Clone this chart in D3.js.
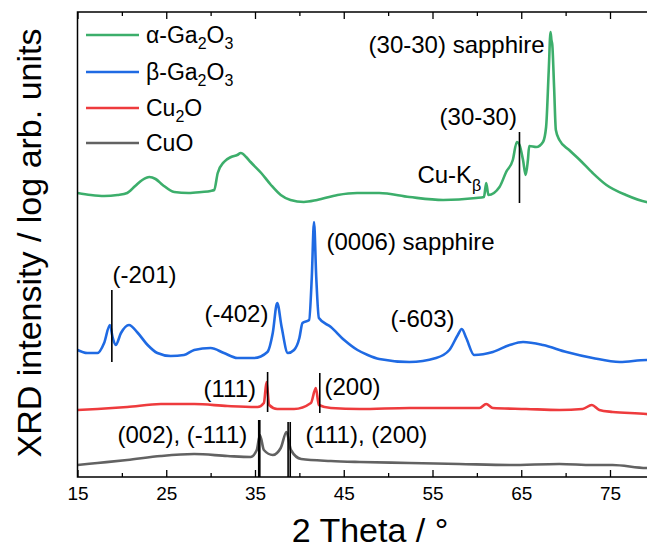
<!DOCTYPE html>
<html><head><meta charset="utf-8">
<script src="https://cdn.jsdelivr.net/npm/d3@7"></script>
<style>body{margin:0;background:#fff}svg{display:block}text{font-family:"Liberation Sans",Arial,sans-serif}</style>
</head><body><svg id="c" width="647" height="550"></svg>
<script>
// ---- data (2θ in degrees, intensity in arbitrary offset log units) ----
const alphaTheta = [15,16.5,18,19.5,20.6,21.5,22.3,23.1,23.8,24.6,25.9,27.5,29,30,30.4,30.8,31.5,32.3,33,33.4,34,34.5,35.7,36.8,37.9,39,40.5,42,44.3,46.5,49,52.4,56.2,59.9,60.8,61.05,61.3,62.55,63.3,64.05,64.5,64.8,65.2,65.5,65.75,65.9,66.7,67.45,67.8,68.1,68.3,68.4,68.5,68.7,68.9,69.3,70.4,71.6,73.05,74.6,76.8,79.1,80];
const alphaI = [284,282,281,282,284,291,297,300,298,292,285,284,285,286,287,304,315,320,322,324,320,315,304,292,282,277,275,277,282,284,284,280,277,279,280,294,282,290,305,317,335,332,317,302,317,331,330,335,350,407,445,437,432,390,347,337,327,317,304,292,282,275,274];

const betaTheta = [15,16.1,17.25,18,18.65,18.95,19.3,19.9,20.8,21.8,22.9,24,25.5,27,28.15,30,31.5,33,34.9,36.4,37,37.5,38,38.7,39.4,40,40.35,41.1,41.4,41.65,41.9,42.2,43.55,45.05,46.55,47.7,49,52.4,55.4,56.9,57.85,58.3,58.8,59.7,61.8,63.7,65.2,67.45,70.1,73.05,76.1,79.1,80];
const betaI = [127,124,124,134,152,140,132,144,152,144,132,124,121,122,127,129,124,119,119,125,144,174,150,124,127,139,154,157,200,255,200,159,150,137,127,122,118,115,119,127,142,148,139,122,125,132,135,132,125,119,115,117,116];

const cu2oTheta = [15,17.25,20.6,24.4,28.15,31.9,35.3,36,36.3,36.6,37.5,39.4,41.3,41.85,42.2,43.55,46.8,52.4,58,60.3,61.05,61.8,65.55,69.3,71.9,72.95,73.8,75.3,79.1,80];
const cu2oI = [67,68,70,73,73,71,70,74,95,72,68,68,74,89,72,69,68,69,69,69,73,69,68,67,68,72,67,65,63,62];

const cuoTheta = [15,17.25,20.6,24.4,28.15,31.9,34.5,35.2,35.55,36,37,37.9,38.55,39.05,40.2,43.55,46.8,52.4,58,63.7,69.3,73.05,75.3,79.1,80];
const cuoI = [12,14,17,21,23,21,20,27,42,27,22,29,45,27,18,16,15,14,13,12,13,12,12,9,9];

const seriesNames = ["α-Ga2O3","β-Ga2O3","Cu2O","CuO"];
const xTickValues = [15,25,35,45,55,65,75];
const xMinorValues = [20,30,40,50,60,70,80];

// reflection markers: [2θ, lower, upper]
const markers = [[64.8,274,345],[18.87,115,187],[36.42,65,105],[42.3,64,104],[35.42,0,57],[35.54,0,57],[38.73,0,55],[38.97,0,55]];
// annotation labels: [text, subscript, 2θ, level, anchor]
const notes = [
  ["(30-30) sapphire","",47.8,424,"start"],
  ["(30-30)","",55.8,352,"start"],
  ["Cu-K","β",53.3,294,"start"],
  ["(-201)","",18.94,194,"start"],
  ["(-402)","",29.3,155,"start"],
  ["(0006) sapphire","",43.06,227,"start"],
  ["(-603)","",50.27,150,"start"],
  ["(111)","",29.2,80,"start"],
  ["(200)","",42.83,82,"start"],
  ["(002), (-111)","",19.5,34,"start"],
  ["(111), (200)","",40.69,34,"start"]
];

// ---- drawing ----
const svg = d3.select("#c");
const L = 77.5, B = 477, T = 12;
const x = d3.scaleLinear().domain([15,80]).range([L, L + 65*8.875]);
const y = d3.scaleLinear().domain([0,465]).range([B, T]);
const colors = ["#3cae6b","#1f6ae3","#ee3b3d","#626262"];
const sets = [[alphaTheta,alphaI],[betaTheta,betaI],[cu2oTheta,cu2oI],[cuoTheta,cuoI]];

const line = d3.line().x(d=>x(d[0])).y(d=>y(d[1])).curve(d3.curveMonotoneX);
sets.forEach((s,i)=>{
  const pts = s[0].map((t,j)=>[t,s[1][j]]);
  svg.append("path").attr("d",line(pts)).attr("fill","none")
    .attr("stroke",colors[i]).attr("stroke-width",2.6).attr("stroke-linejoin","round");
});

markers.forEach(m=>{
  svg.append("line").attr("x1",x(m[0])).attr("x2",x(m[0]))
    .attr("y1",y(m[1])).attr("y2",y(m[2])).attr("stroke","#000").attr("stroke-width",1.6);
});

notes.forEach(n=>{
  const t = svg.append("text").attr("x",x(n[2])).attr("y",y(n[3]))
    .attr("font-size",24).attr("text-anchor",n[4]).attr("fill","#000");
  t.append("tspan").text(n[0]);
  if(n[1]) t.append("tspan").attr("dy",8).attr("font-size",16).text(n[1]);
});

// axes
const axB = d3.axisBottom(x).tickValues(xTickValues).tickSize(-7).tickPadding(10).tickFormat(d3.format("d"));
const gB = svg.append("g").attr("transform",`translate(0,${B})`).call(axB);
gB.select(".domain").remove();
gB.selectAll("text").attr("font-size",19).attr("fill","#000").attr("font-family","Liberation Sans, Arial");
gB.selectAll("line").attr("stroke","#000").attr("stroke-width",1.3);
const gBm = svg.append("g").attr("transform",`translate(0,${B})`).call(d3.axisBottom(x).tickValues(xMinorValues).tickSize(-4).tickFormat(""));
gBm.select(".domain").remove(); gBm.selectAll("line").attr("stroke","#000").attr("stroke-width",1.3);

const gT = svg.append("g").attr("transform",`translate(0,${T})`).call(d3.axisTop(x).tickValues(xTickValues).tickSize(-7).tickFormat(""));
gT.select(".domain").remove(); gT.selectAll("line").attr("stroke","#000").attr("stroke-width",1.3);
const gTm = svg.append("g").attr("transform",`translate(0,${T})`).call(d3.axisTop(x).tickValues(xMinorValues).tickSize(-4).tickFormat(""));
gTm.select(".domain").remove(); gTm.selectAll("line").attr("stroke","#000").attr("stroke-width",1.3);

// frame
svg.append("path").attr("d",`M${x(80)},${T}H${L}V${B}H${x(80)}`).attr("fill","none").attr("stroke","#000").attr("stroke-width",1.5);

// titles
svg.append("text").attr("x",370).attr("y",542).attr("text-anchor","middle").attr("font-size",34).text("2 Theta / °");
svg.append("text").attr("transform","translate(41,243) rotate(-90)").attr("text-anchor","middle").attr("font-size",34).text("XRD intensity / log arb. units");

// legend
const legTexts = [["α-Ga","2","O","3"],["β-Ga","2","O","3"],["Cu","2","O",""],["CuO","","",""]];
const legY = [35,72,108,143];
legTexts.forEach((p,i)=>{
  svg.append("line").attr("x1",86).attr("x2",139).attr("y1",legY[i]).attr("y2",legY[i]).attr("stroke",colors[i]).attr("stroke-width",2.4);
  const t = svg.append("text").attr("x",146).attr("y",legY[i]+8).attr("font-size",23);
  t.append("tspan").text(p[0]);
  if(p[1]) t.append("tspan").attr("dy",6).attr("font-size",16).text(p[1]);
  if(p[2]) t.append("tspan").attr("dy",-6).text(p[2]);
  if(p[3]) t.append("tspan").attr("dy",6).attr("font-size",16).text(p[3]);
});
</script></body></html>
